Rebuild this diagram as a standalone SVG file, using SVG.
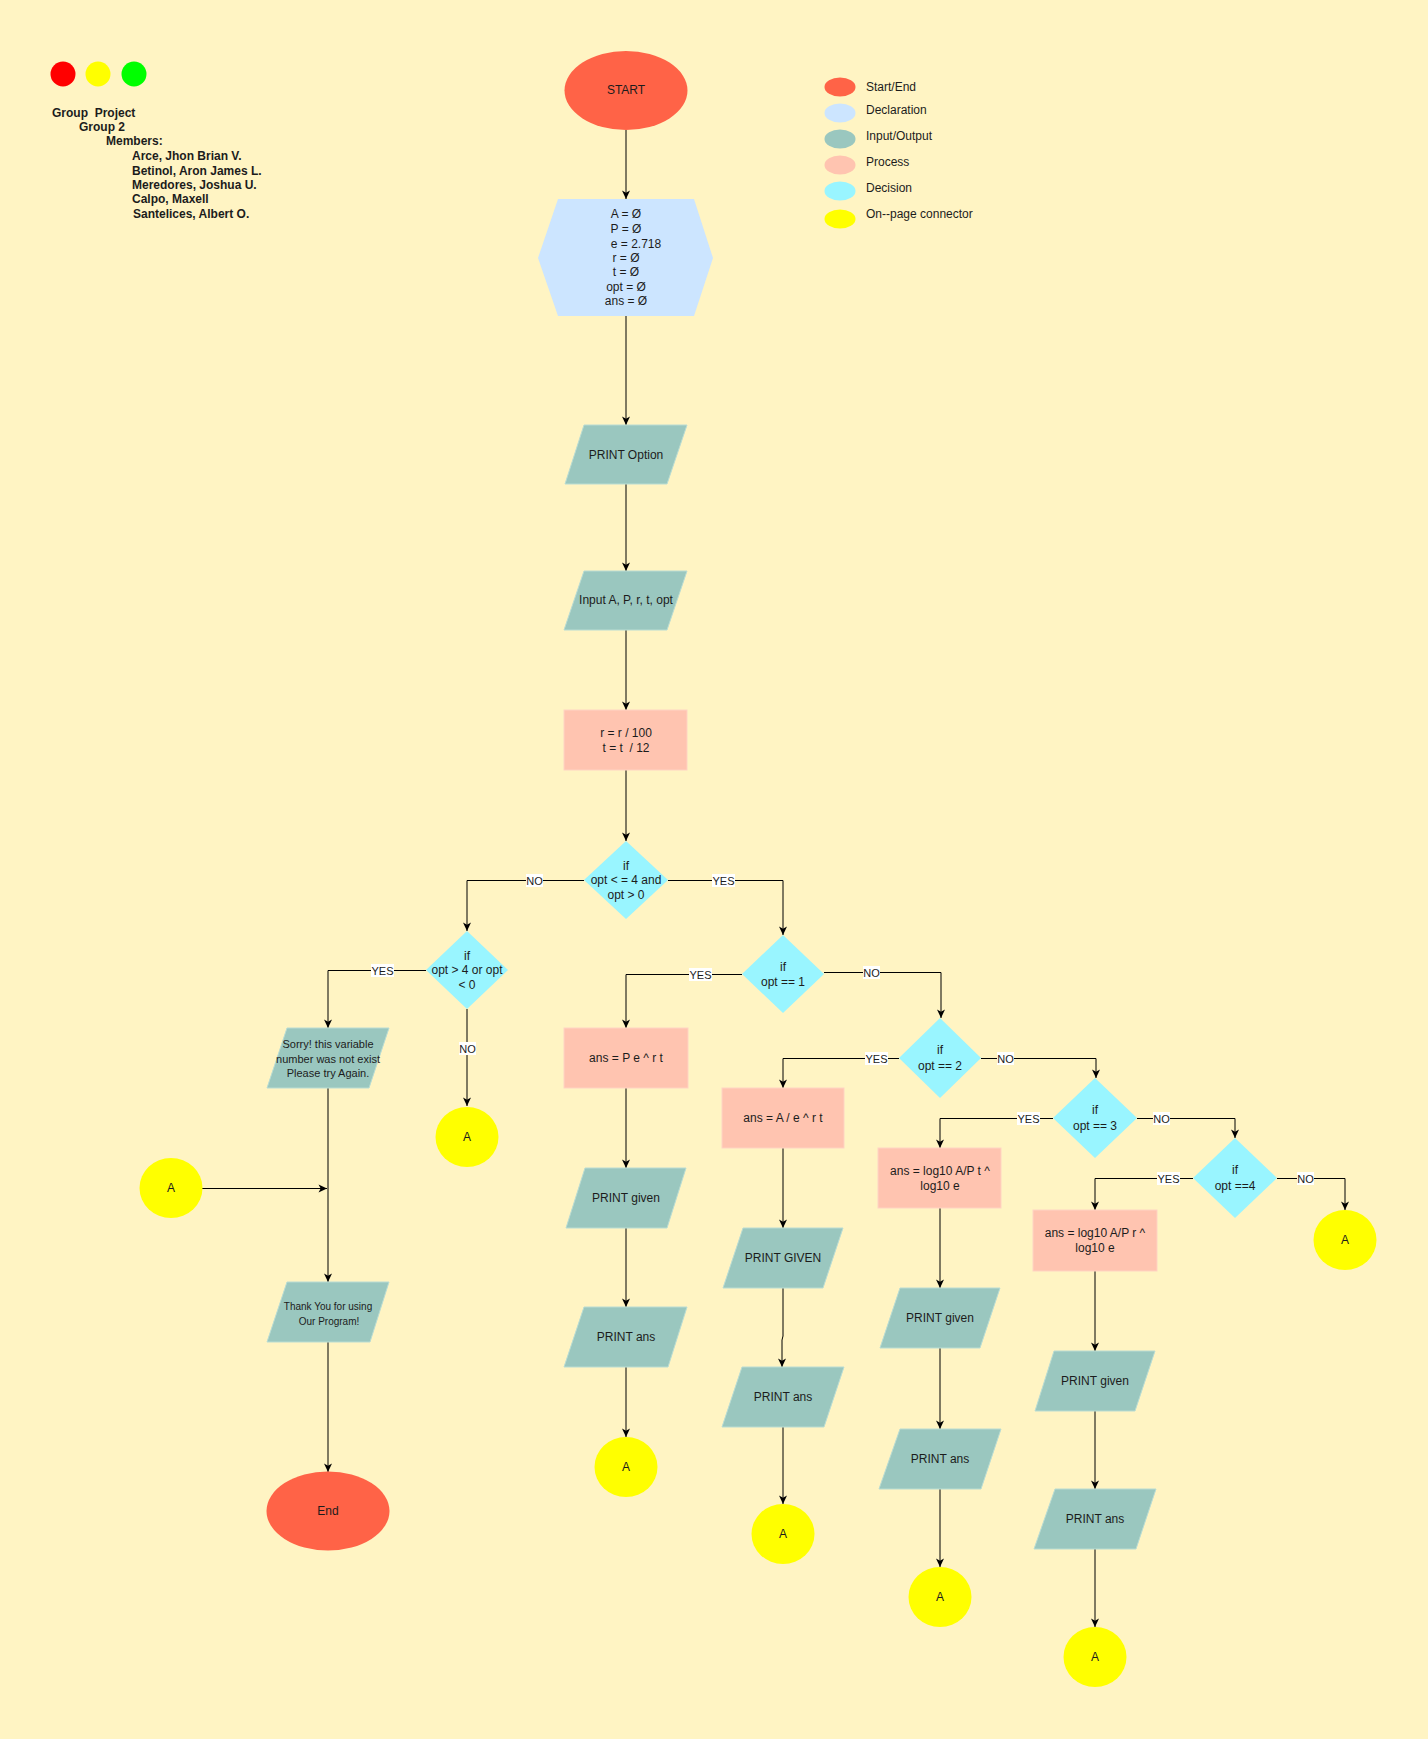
<svg xmlns="http://www.w3.org/2000/svg" width="1428" height="1739" viewBox="0 0 1428 1739">
<defs>
<marker id="arr" viewBox="0 0 10 10" markerWidth="10" markerHeight="10" refX="9.5" refY="5" orient="auto" markerUnits="userSpaceOnUse">
<path d="M1,1 L9.5,5 L1,9 L3.2,5 Z" fill="#000"/>
</marker>
<style>
text{font-family:"Liberation Sans",Arial,sans-serif;fill:#1c1c1c;font-size:12px;text-anchor:middle;dominant-baseline:central}
.hdr{font-weight:bold;text-anchor:start}
.leg{text-anchor:start}
.se{fill:#FF6347}
.dec{fill:#CCE5FF}
.io{fill:#9AC7BF;stroke:#B9DCD3;stroke-width:1}
.pr{fill:#FFC4B0;stroke:#FFD3C3;stroke-width:1}
.di{fill:#99F5FF}
.con{fill:#FFFF00}
.ln{fill:none;stroke:#000;stroke-width:1}
.lbl rect{fill:#fff}
.lbl text{font-size:11px}
</style>
</defs>
<rect x="0" y="0" width="1428" height="1739" fill="#FFF4C3"/>

<g id="header">
<circle cx="63" cy="74" r="12.5" fill="#FF0000"/>
<circle cx="98" cy="74" r="12.5" fill="#FFFF00"/>
<circle cx="134" cy="74" r="12.5" fill="#00FF00"/>
<text class="hdr" x="52" y="113" xml:space="preserve">Group  Project</text>
<text class="hdr" x="79" y="127">Group 2</text>
<text class="hdr" x="106" y="141">Members:</text>
<text class="hdr" x="132" y="156">Arce, Jhon Brian V.</text>
<text class="hdr" x="132" y="170.5">Betinol, Aron James L.</text>
<text class="hdr" x="132" y="185">Meredores, Joshua U.</text>
<text class="hdr" x="132" y="199">Calpo, Maxell</text>
<text class="hdr" x="133" y="213.5">Santelices, Albert O.</text>
</g>

<g id="legend">
<ellipse class="se" cx="840" cy="87" rx="15.5" ry="9.5"/>
<text class="leg" x="866" y="87">Start/End</text>
<ellipse class="dec" cx="840" cy="113" rx="15.5" ry="9.5"/>
<text class="leg" x="866" y="110">Declaration</text>
<ellipse fill="#9AC7BF" cx="840" cy="139" rx="15.5" ry="9.5"/>
<text class="leg" x="866" y="136">Input/Output</text>
<ellipse fill="#FFC4B0" cx="840" cy="165" rx="15.5" ry="9.5"/>
<text class="leg" x="866" y="162">Process</text>
<ellipse class="di" cx="840" cy="191" rx="15.5" ry="9.5"/>
<text class="leg" x="866" y="188">Decision</text>
<ellipse class="con" cx="840" cy="219" rx="15.5" ry="9.5"/>
<text class="leg" x="866" y="214">On--page connector</text>
</g>

<g id="connectors">
<path class="ln" d="M626,130 V199" marker-end="url(#arr)"/>
<path class="ln" d="M626,316 V425" marker-end="url(#arr)"/>
<path class="ln" d="M626,484 V571" marker-end="url(#arr)"/>
<path class="ln" d="M626,630 V710" marker-end="url(#arr)"/>
<path class="ln" d="M626,770 V841" marker-end="url(#arr)"/>
<path class="ln" d="M584,880.5 H467 V931" marker-end="url(#arr)"/>
<path class="ln" d="M668,880.5 H783 V935" marker-end="url(#arr)"/>
<path class="ln" d="M426,970.5 H328 V1028" marker-end="url(#arr)"/>
<path class="ln" d="M467,1009 V1106" marker-end="url(#arr)"/>
<path class="ln" d="M328,1088 V1282" marker-end="url(#arr)"/>
<path class="ln" d="M202,1188.5 H327" marker-end="url(#arr)"/>
<path class="ln" d="M328,1342 V1472" marker-end="url(#arr)"/>
<path class="ln" d="M742,974.5 H626 V1028" marker-end="url(#arr)"/>
<path class="ln" d="M824,972.5 H941 V1018" marker-end="url(#arr)"/>
<path class="ln" d="M899,1058.5 H783 V1088" marker-end="url(#arr)"/>
<path class="ln" d="M981,1058.5 H1096 V1078" marker-end="url(#arr)"/>
<path class="ln" d="M1053,1118.5 H940 V1148" marker-end="url(#arr)"/>
<path class="ln" d="M1137,1118.5 H1235 V1138" marker-end="url(#arr)"/>
<path class="ln" d="M1193,1178.5 H1095 V1210" marker-end="url(#arr)"/>
<path class="ln" d="M1277,1178.5 H1345 V1210" marker-end="url(#arr)"/>
<path class="ln" d="M626,1088 V1168" marker-end="url(#arr)"/>
<path class="ln" d="M626,1228 V1307" marker-end="url(#arr)"/>
<path class="ln" d="M626,1367 V1437" marker-end="url(#arr)"/>
<path class="ln" d="M783,1148 V1228" marker-end="url(#arr)"/>
<path class="ln" d="M783,1288 V1336 L782,1340 V1367" marker-end="url(#arr)"/>
<path class="ln" d="M783,1427 V1504" marker-end="url(#arr)"/>
<path class="ln" d="M940,1208 V1288" marker-end="url(#arr)"/>
<path class="ln" d="M940,1348 V1429" marker-end="url(#arr)"/>
<path class="ln" d="M940,1489 V1567" marker-end="url(#arr)"/>
<path class="ln" d="M1095,1271 V1351" marker-end="url(#arr)"/>
<path class="ln" d="M1095,1411 V1489" marker-end="url(#arr)"/>
<path class="ln" d="M1095,1549 V1627" marker-end="url(#arr)"/>
<g class="lbl">
<rect x="526" y="874" width="17" height="13"/><text x="534.5" y="880.5">NO</text>
<rect x="712" y="874" width="23" height="13"/><text x="723.5" y="880.5">YES</text>
<rect x="371" y="964" width="23" height="13"/><text x="382.5" y="970.5">YES</text>
<rect x="459" y="1042" width="17" height="13"/><text x="467.5" y="1048.5">NO</text>
<rect x="689" y="968" width="23" height="13"/><text x="700.5" y="974.5">YES</text>
<rect x="863" y="966" width="17" height="13"/><text x="871.5" y="972.5">NO</text>
<rect x="865" y="1052" width="23" height="13"/><text x="876.5" y="1058.5">YES</text>
<rect x="997" y="1052" width="17" height="13"/><text x="1005.5" y="1058.5">NO</text>
<rect x="1017" y="1112" width="23" height="13"/><text x="1028.5" y="1118.5">YES</text>
<rect x="1153" y="1112" width="17" height="13"/><text x="1161.5" y="1118.5">NO</text>
<rect x="1157" y="1172" width="23" height="13"/><text x="1168.5" y="1178.5">YES</text>
<rect x="1297" y="1172" width="17" height="13"/><text x="1305.5" y="1178.5">NO</text>
</g>
</g>

<g id="start"><ellipse class="se" cx="626" cy="90.5" rx="61.5" ry="39.5"/><text x="626" y="90">START</text></g>

<g id="declare">
<polygon class="dec" points="558,199 694,199 713,258 694,316 558,316 538,258"/>
<text x="626" y="214">A = Ø</text>
<text x="626" y="229">P = Ø</text>
<text x="636" y="243.5">e = 2.718</text>
<text x="626" y="257.5">r = Ø</text>
<text x="626" y="272">t = Ø</text>
<text x="626" y="286.5">opt = Ø</text>
<text x="626" y="300.5">ans = Ø</text>
</g>

<g id="print_option"><polygon class="io" points="584,425 687,425 667,484 565,484"/><text x="626" y="454.5">PRINT Option</text></g>
<g id="input"><polygon class="io" points="584,571 687,571 667,630 564,630"/><text x="626" y="600">Input A, P, r, t, opt</text></g>
<g id="calc"><rect class="pr" x="564" y="710" width="123" height="60"/><text x="626" y="732.5">r = r / 100</text><text x="626" y="748" xml:space="preserve">t = t  / 12</text></g>

<g id="dec1"><polygon class="di" points="626,841 668,880 626,919 584,880"/><text x="626" y="865.5">if</text><text x="626" y="880">opt &lt; = 4 and</text><text x="626" y="894.5">opt &gt; 0</text></g>
<g id="dec_invalid"><polygon class="di" points="467,931 508,970 467,1009 426,970"/><text x="467" y="955.5">if</text><text x="467" y="970">opt &gt; 4 or opt</text><text x="467" y="984.5">&lt; 0</text></g>
<g id="sorry"><polygon class="io" points="287,1028 389,1028 369,1088 267,1088"/>
<text x="328" y="1044" style="font-size:11px">Sorry! this variable</text>
<text x="328" y="1058.5" style="font-size:11px">number was not exist</text>
<text x="328" y="1073" style="font-size:11px">Please try Again.</text></g>
<g id="conA_invalid"><ellipse class="con" cx="467" cy="1137" rx="31.5" ry="30"/><text x="467" y="1137">A</text></g>
<g id="conA_left"><ellipse class="con" cx="171" cy="1188" rx="31.5" ry="30"/><text x="171" y="1188">A</text></g>
<g id="thanks"><polygon class="io" points="287,1282 389,1282 370,1342 267,1342"/>
<text x="328" y="1306" style="font-size:10px">Thank You for using</text>
<text x="329" y="1321" style="font-size:10px">Our Program!</text></g>
<g id="end"><ellipse class="se" cx="328" cy="1511" rx="61.5" ry="39.5"/><text x="328" y="1511">End</text></g>

<g id="dec_opt1"><polygon class="di" points="783,935 824,974 783,1013 742,974"/><text x="783" y="967">if</text><text x="783" y="981.5">opt == 1</text></g>
<g id="dec_opt2"><polygon class="di" points="940,1018 981,1058 940,1098 899,1058"/><text x="940" y="1050">if</text><text x="940" y="1065.5">opt == 2</text></g>
<g id="dec_opt3"><polygon class="di" points="1095,1078 1137,1118 1095,1158 1053,1118"/><text x="1095" y="1110">if</text><text x="1095" y="1125.5">opt == 3</text></g>
<g id="dec_opt4"><polygon class="di" points="1235,1138 1277,1178 1235,1218 1193,1178"/><text x="1235" y="1170">if</text><text x="1235" y="1186">opt ==4</text></g>
<g id="conA_no4"><ellipse class="con" cx="1345" cy="1240" rx="31.5" ry="30"/><text x="1345" y="1240">A</text></g>

<g id="col1_proc"><rect class="pr" x="564" y="1028" width="124" height="60"/><text x="626" y="1058">ans = P e ^ r t</text></g>
<g id="col1_given"><polygon class="io" points="585,1168 686,1168 667,1228 566,1228"/><text x="626" y="1198">PRINT given</text></g>
<g id="col1_ans"><polygon class="io" points="584,1307 687,1307 668,1367 564,1367"/><text x="626" y="1337">PRINT ans</text></g>
<g id="col1_A"><ellipse class="con" cx="626" cy="1467" rx="31.5" ry="30"/><text x="626" y="1467">A</text></g>

<g id="col2_proc"><rect class="pr" x="722" y="1088" width="122" height="60"/><text x="783" y="1118">ans = A / e ^ r t</text></g>
<g id="col2_given"><polygon class="io" points="743,1228 843,1228 823,1288 723,1288"/><text x="783" y="1258">PRINT GIVEN</text></g>
<g id="col2_ans"><polygon class="io" points="742,1367 844,1367 824,1427 722,1427"/><text x="783" y="1397">PRINT ans</text></g>
<g id="col2_A"><ellipse class="con" cx="783" cy="1534" rx="31.5" ry="30"/><text x="783" y="1534">A</text></g>

<g id="col3_proc"><rect class="pr" x="878" y="1148" width="123" height="60"/><text x="940" y="1171">ans = log10 A/P t ^</text><text x="940" y="1186">log10 e</text></g>
<g id="col3_given"><polygon class="io" points="900,1288 1000,1288 980,1348 880,1348"/><text x="940" y="1318">PRINT given</text></g>
<g id="col3_ans"><polygon class="io" points="900,1429 1001,1429 981,1489 879,1489"/><text x="940" y="1459">PRINT ans</text></g>
<g id="col3_A"><ellipse class="con" cx="940" cy="1597" rx="31.5" ry="30"/><text x="940" y="1597">A</text></g>

<g id="col4_proc"><rect class="pr" x="1033" y="1210" width="124" height="61"/><text x="1095" y="1233">ans = log10 A/P r ^</text><text x="1095" y="1248">log10 e</text></g>
<g id="col4_given"><polygon class="io" points="1054,1351 1155,1351 1135,1411 1035,1411"/><text x="1095" y="1381">PRINT given</text></g>
<g id="col4_ans"><polygon class="io" points="1055,1489 1156,1489 1136,1549 1034,1549"/><text x="1095" y="1519">PRINT ans</text></g>
<g id="col4_A"><ellipse class="con" cx="1095" cy="1657" rx="31.5" ry="30"/><text x="1095" y="1657">A</text></g>
</svg>
